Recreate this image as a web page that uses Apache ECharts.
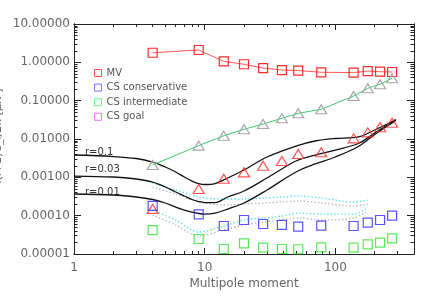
<!DOCTYPE html>
<html><head><meta charset="utf-8">
<script src="https://cdn.jsdelivr.net/npm/echarts@6/dist/echarts.min.js"></script>
<style>html,body{margin:0;padding:0;background:#fff}#c{width:436px;height:302px}</style>
</head><body><div id="c"></div>
<script>
// ---- data ----
const bins = [4, 9, 14, 20, 28, 39, 52, 78, 138, 177, 220, 272];
const mvValues = [1.78, 2.1, 1.06, 0.89, 0.71, 0.63, 0.61, 0.55, 0.54, 0.59, 0.57, 0.56];
const grayTriValues = [0.0021, 0.0067, 0.0122, 0.0179, 0.0246, 0.0347, 0.0468, 0.0595, 0.132, 0.21, 0.267, 0.383];
const redTriValues = [0.00015, 0.000496, 0.00092, 0.00135, 0.00201, 0.00267, 0.00406, 0.0045, 0.0104, 0.0149, 0.0202, 0.0266];
const csConsValues = [0.00018, 0.000108, 0.0000537, 0.000077, 0.0000606, 0.0000572, 0.0000515, 0.0000553, 0.0000537, 0.0000655, 0.000077, 0.0000997];
const csIntValues = [0.0000422, 0.0000246, 0.0000135, 0.000019, 0.0000146, 0.0000135, 0.0000133, 0.0000149, 0.0000146, 0.0000179, 0.0000197, 0.0000257];
const csGoalValues = [];

const curveEll = [1, 2, 3, 4, 5, 6, 7, 8, 9, 10, 12, 15, 20, 30, 50, 70, 100, 150, 200, 250, 290];
const r01 = [0.00382, 0.00349, 0.0031, 0.00251, 0.00186, 0.00138, 0.00102, 0.0008, 0.00069, 0.00065, 0.00069, 0.00096, 0.00155, 0.00339, 0.00656, 0.00887, 0.0103, 0.0113, 0.0172, 0.0246, 0.0322];
const r003 = [0.00108, 0.00102, 0.000904, 0.000755, 0.000559, 0.000414, 0.000326, 0.000264, 0.000234, 0.00022, 0.00022, 0.000307, 0.00044, 0.00096, 0.00267, 0.00382, 0.00516, 0.00762, 0.0143, 0.0232, 0.0313];
const r001 = [0.000367, 0.000346, 0.000307, 0.000264, 0.000214, 0.000168, 0.00014, 0.000124, 0.000114, 0.00011, 0.000116, 0.000149, 0.000214, 0.000467, 0.00138, 0.00223, 0.00339, 0.00637, 0.0131, 0.0218, 0.0304];

const bandEll = [4, 6, 9, 14, 20, 28, 39, 52, 78, 138, 177];
const cyanA = [0.000711, 0.000467, 0.000307, 0.000272, 0.000272, 0.000289, 0.000307, 0.000326, 0.000289, 0.000227, 0.000256];
const grayA = [0.000559, 0.000367, 0.000227, 0.00019, 0.000201, 0.000214, 0.000227, 0.000241, 0.000214, 0.000179, 0.000201];
const cyanB = [0.00014, 0.0000771, 0.0000374, 0.0000537, 0.0000771, 0.0000869, 0.000098, 0.000117, 0.00011, 0.00011, 0.000158];
const grayB = [0.000104, 0.000057, 0.0000294, 0.0000422, 0.000057, 0.0000683, 0.0000771, 0.0000869, 0.0000771, 0.0000869, 0.000132];

const xMajor = [1, 10, 100];
const yMajor = [0.00001, 0.0001, 0.001, 0.01, 0.1, 1, 10];
const curveLabels = ['r=0.1', 'r=0.03', 'r=0.01'];
const yTitle = 'l(l+1)C_l/2π [μK²]';

// ---- helpers ----
function minorTicks(lo, hi) {
  const out = [];
  for (let d = lo; d < hi; d++) {
    for (let k = 2; k <= 9; k++) out.push(+(k * Math.pow(10, d)).toPrecision(3));
  }
  return out;
}
const xMinor = minorTicks(0, 3).filter(v => v < 400);
const yMinor = minorTicks(-5, 1);
const zip = (xs, ys) => xs.map((x, i) => [x, ys[i]]);

const FONT = 'DejaVu Sans';
const AX = '#222';
function xAx(pos, ticks, len, labels) {
  return {
    type: 'log', min: 1, max: 400, position: pos, logBase: 10,
    axisLine: { show: true, onZero: false, lineStyle: { color: AX, width: 1 } },
    axisTick: { show: true, inside: true, length: len, customValues: ticks, lineStyle: { color: AX, width: 1 } },
    axisLabel: labels ? { show: true, customValues: xMajor, fontFamily: FONT, fontSize: 12, color: '#666', margin: 8, formatter: v => String(Math.round(v)) } : { show: false },
    splitLine: { show: false },
    name: labels ? 'Multipole moment' : '', nameLocation: 'middle', nameGap: 24, nameMoveOverlap: false,
    nameTextStyle: { fontFamily: FONT, fontSize: 12, color: '#666' }
  };
}
function yAx(pos, ticks, len, labels) {
  return {
    type: 'log', min: 0.00001, max: 10, position: pos, logBase: 10,
    axisLine: { show: true, onZero: false, lineStyle: { color: AX, width: 1 } },
    axisTick: { show: true, inside: true, length: len, customValues: ticks, lineStyle: { color: AX, width: 1 } },
    axisLabel: labels ? { show: true, fontFamily: FONT, fontSize: 12, color: '#666', margin: 4, formatter: v => v.toFixed(5) } : { show: false },
    splitLine: { show: false }
  };
}

const hollow = (c, w) => ({ color: 'rgba(0,0,0,0)', borderColor: c, borderWidth: w || 1.2 });
const RED = '#ff2a2a', BLUE = '#2a2aff', GREEN = '#2ee62e', MAG = '#ff33ff';

function dotted(name, data, color) {
  return { name, type: 'line', data: zip(bandEll, data), showSymbol: false, smooth: 0.3,
    lineStyle: { color, width: 1.3, type: [1.3, 2.2] }, z: 1, silent: true };
}
function curve(name, data) {
  return { name, type: 'line', data: zip(curveEll, data), showSymbol: false, smooth: 0.35,
    lineStyle: { color: '#111', width: 1.3 }, z: 3, silent: true };
}

const chart = echarts.init(document.getElementById('c'), null, { renderer: 'canvas' });
chart.setOption({
  animation: false,
  backgroundColor: '#fff',
  grid: { left: 74, right: 22, top: 24, bottom: 48, containLabel: false, outerBoundsMode: 'none' },
  xAxis: [
    xAx('bottom', xMajor, 6, true),
    xAx('bottom', xMinor, 3, false),
    xAx('top', xMajor, 6, false),
    xAx('top', xMinor, 3, false)
  ],
  yAxis: [
    yAx('left', yMajor, 7, true),
    yAx('left', yMinor, 3.5, false),
    yAx('right', yMajor, 7, false),
    yAx('right', yMinor, 3.5, false)
  ],
  legend: {
    orient: 'vertical', left: 89, top: 62, itemWidth: 7, itemHeight: 7, itemGap: 2.6,
    textStyle: { fontFamily: FONT, fontSize: 10, color: '#555', lineHeight: 12 },
    selectedMode: false,
    data: [
      { name: 'MV', icon: 'rect', itemStyle: hollow('#ff5050', 1) },
      { name: 'CS conservative', icon: 'rect', itemStyle: hollow('#5050ff', 1) },
      { name: 'CS intermediate', icon: 'rect', itemStyle: hollow('#50f050', 1) },
      { name: 'CS goal', icon: 'rect', itemStyle: hollow('#ff50ff', 1) }
    ]
  },
  graphic: curveLabels.map((t, i) => ({
    type: 'text', left: 85, top: [147, 164, 187][i],
    style: { text: t, fontFamily: FONT, fontSize: 10, fill: '#333' }
  })).concat([{
    type: 'text', x: 4, y: 136, rotation: Math.PI / 2,
    style: { text: yTitle, fontFamily: FONT, fontSize: 11, fill: '#666', align: 'center', verticalAlign: 'bottom' }
  }]),
  series: [
    dotted('cyanA', cyanA, '#3fe6e6'),
    dotted('grayA', grayA, '#b0b0b0'),
    dotted('cyanB', cyanB, '#3fe6e6'),
    dotted('grayB', grayB, '#b0b0b0'),
    curve('r01', r01), curve('r003', r003), curve('r001', r001),
    { name: 'MV', type: 'line', data: zip(bins, mvValues), symbol: 'rect', symbolSize: 9,
      itemStyle: hollow(RED, 1.2), lineStyle: { color: '#ff5a5a', width: 1 }, z: 5 },
    { name: 'lensing', type: 'line', data: zip(bins, grayTriValues), symbol: 'triangle', symbolSize: [11, 9],
      itemStyle: hollow('#a8a8a8', 1.2), lineStyle: { color: '#3ccf6e', width: 1 }, z: 5 },
    { name: 'BB', type: 'scatter', data: zip(bins, redTriValues), symbol: 'triangle', symbolSize: [11, 9],
      itemStyle: hollow(RED, 1.2), z: 6 },
    { name: 'CS conservative', type: 'scatter', data: zip(bins, csConsValues), symbol: 'rect', symbolSize: 9,
      itemStyle: hollow(BLUE, 1.2), z: 6 },
    { name: 'CS intermediate', type: 'scatter', data: zip(bins, csIntValues), symbol: 'rect', symbolSize: 9,
      itemStyle: hollow(GREEN, 1.2), z: 6 },
    { name: 'CS goal', type: 'scatter', data: csGoalValues, symbol: 'rect', symbolSize: 9,
      itemStyle: hollow(MAG, 1.2), z: 6 }
  ]
});
</script></body></html>
